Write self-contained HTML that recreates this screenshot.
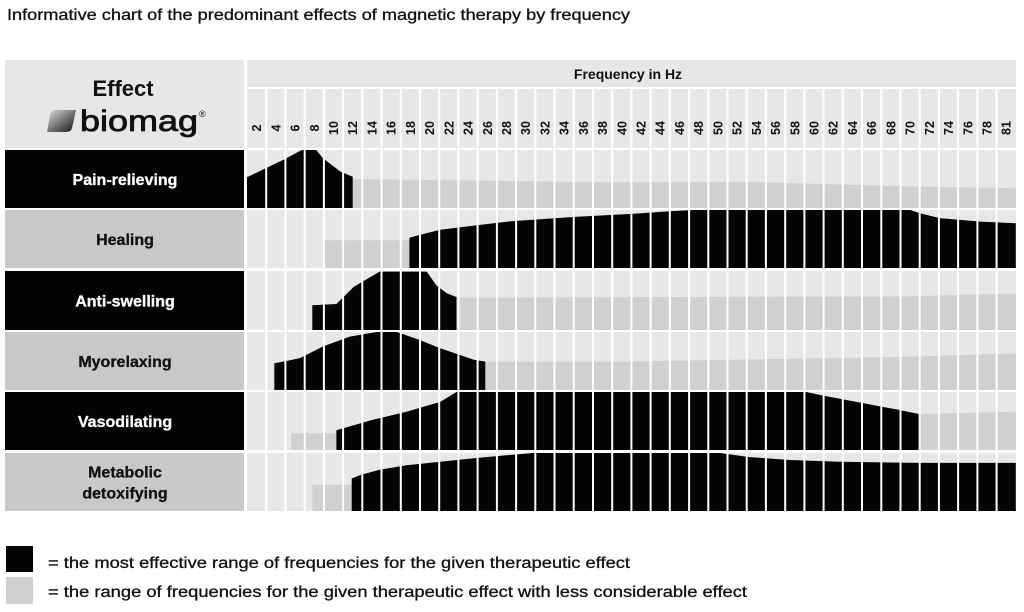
<!DOCTYPE html>
<html><head><meta charset="utf-8">
<style>
body{margin:0;background:#fff;width:1024px;height:612px;overflow:hidden;font-family:"Liberation Sans",sans-serif;}
svg{display:block}
</style></head>
<body>
<svg id="chart" width="1024" height="612" viewBox="0 0 1024 612">
<defs>
<linearGradient id="lg" x1="0" y1="0" x2="1" y2="1"><stop offset="0" stop-color="#ddd"/><stop offset="0.5" stop-color="#777"/><stop offset="1" stop-color="#111"/></linearGradient>
</defs>
<text x="7" y="20" font-size="15.5" fill="#111" textLength="623" lengthAdjust="spacingAndGlyphs" stroke="#111" stroke-width="0.3">Informative chart of the predominant effects of magnetic therapy by frequency</text>
<rect x="5" y="60" width="239" height="88" fill="#e6e7e8"/>
<text x="123" y="96" font-size="22" font-weight="bold" text-anchor="middle" fill="#111">Effect</text>
<path d="M52 110 L76 110 L72 128 Q71 132 66 132 L47 132 L50 115 Q51 110 56 110Z" fill="url(#lg)"/>
<text x="80" y="131" font-size="30" fill="#111" stroke="#111" stroke-width="0.8" textLength="118" lengthAdjust="spacingAndGlyphs">biomag</text>
<text x="199" y="117" font-size="9" fill="#111">®</text>
<rect x="247" y="60" width="769" height="88" fill="#e6e7e8"/>
<rect x="247" y="87" width="769" height="2" fill="#fff"/>
<text x="628" y="79" font-size="14" font-weight="bold" text-anchor="middle" fill="#111">Frequency in Hz</text>
<g id="rows"></g>
<g id="ticks"></g>
<g id="grid"></g>
<rect x="6" y="546" width="27" height="26" fill="#050305"/>
<rect x="6" y="577" width="27" height="27" fill="#d0d0d0"/>
<text x="48" y="568" font-size="15.5" fill="#111" stroke="#111" stroke-width="0.3" textLength="582" lengthAdjust="spacingAndGlyphs">= the most effective range of frequencies for the given therapeutic effect</text>
<text x="48" y="597" font-size="15.5" fill="#111" stroke="#111" stroke-width="0.3" textLength="699" lengthAdjust="spacingAndGlyphs">= the range of frequencies for the given therapeutic effect with less considerable effect</text>
</svg>
<script>
const freqLabels=[2,4,6,8,10,12,14,16,18,20,22,24,26,28,30,32,34,36,38,40,42,44,46,48,50,52,54,56,58,60,62,64,66,68,70,72,74,76,78,81];
const effects=["Pain-relieving","Healing","Anti-swelling","Myorelaxing","Vasodilating","Metabolic detoxifying"];
const painBlackF=[1,3,4.9,6.7,8.2,8.9,10.7,12];
const painBlackV=[0.53,0.69,0.84,1,1,0.86,0.63,0.54];
const painGrayF=[12,40,53,70,81];
const painGrayV=[0.5,0.44,0.45,0.37,0.34];
const healBlackF=[17.9,19,21.1,24.5,28.1,31.5,34.9,41.6,45,47.4,70,71.1,73.1,77.3,81];
const healBlackV=[0.52,0.57,0.66,0.73,0.8,0.84,0.88,0.94,0.98,1,1,0.94,0.86,0.8,0.77];
const healGrayF=[9,17.9];
const healGrayV=[0.48,0.48];
const antiBlackF=[7.8,10.3,12.1,14.8,19.7,20.7,21.8,22.8];
const antiBlackV=[0.42,0.44,0.73,0.99,0.99,0.76,0.62,0.56];
const antiGrayF=[22.8,70,76,81];
const antiGrayV=[0.55,0.57,0.6,0.61];
const myoBlackF=[3.84,5.1,6.5,8.9,11.7,14.5,16.6,19,21.1,24.6,25.8];
const myoBlackV=[0.46,0.5,0.55,0.75,0.92,1,1,0.86,0.72,0.52,0.49];
const myoGrayF=[25.8,40,69,81];
const myoGrayV=[0.49,0.49,0.57,0.63];
const vasoBlackF=[10.3,14.1,17.6,21.1,22.8,59.2,60.9,68.9,70.9];
const vasoBlackV=[0.34,0.52,0.66,0.83,1,1,0.94,0.69,0.62];
const vasoGrayF=[5.6,10.3,70.9,81];
const vasoGrayV=[0.29,0.29,0.62,0.66];
const metaBlackF=[11.9,12.8,14.8,17.6,21.1,24.6,28,30.8,50.2,53.3,57.5,62.7,71,81];
const metaBlackV=[0.56,0.62,0.71,0.79,0.85,0.91,0.96,1,1,0.93,0.88,0.85,0.83,0.83];
const metaGrayF=[7.8,11.9];
const metaGrayV=[0.45,0.45];

const NS="http://www.w3.org/2000/svg";
const X0=247,W=19.22;
const rowTops=[150,210,271,332,392,453];
const rowBots=[208,268,330,390,450,511];
const labelFill=["#050305","#c8c8c8","#050305","#c8c8c8","#050305","#c8c8c8"];
const labelText=["#fff","#111","#fff","#111","#fff","#111"];
const series=[[painGrayF,painGrayV,painBlackF,painBlackV],[healGrayF,healGrayV,healBlackF,healBlackV],[antiGrayF,antiGrayV,antiBlackF,antiBlackV],[myoGrayF,myoGrayV,myoBlackF,myoBlackV],[vasoGrayF,vasoGrayV,vasoBlackF,vasoBlackV],[metaGrayF,metaGrayV,metaBlackF,metaBlackV]];
function xf(f){return X0+(f/2-0.5)*W;}
function yv(r,v){return rowBots[r]-v*(rowBots[r]-rowTops[r]);}
function mk(t,a){const e=document.createElementNS(NS,t);for(const k in a)e.setAttribute(k,a[k]);return e;}
const rows=document.getElementById('rows');
effects.forEach((name,r)=>{
  const h=rowBots[r]-rowTops[r];
  const lab=mk('rect',{x:5,y:rowTops[r],width:239,height:h,fill:labelFill[r]});
  
  
  rows.appendChild(lab);
  const words=name==="Metabolic detoxifying"?["Metabolic","detoxifying"]:[name];
  words.forEach((w,i)=>{
    const t=mk('text',{x:125,y:rowTops[r]+h/2+6+(words.length>1?(i-0.5)*21:0),'font-size':16,'font-weight':'bold','text-anchor':'middle',fill:labelText[r],stroke:labelText[r],'stroke-width':0.3});
    t.textContent=w;
    
    
    rows.appendChild(t);
  });
  const bg=mk('rect',{x:X0,y:rowTops[r],width:769,height:h,fill:'#e6e7e8'});
  
  
  rows.appendChild(bg);
  const [gF,gV,bF,bV]=series[r];
  [[gF,gV,'#d0d0d0','gray-range-area'],[bF,bV,'#050305','black-range-area']].forEach(([F,V,col,nm])=>{
    let pts=[[xf(F[0]),rowBots[r]]];
    F.forEach((f,i)=>pts.push([xf(f),yv(r,V[i])]));
    pts.push([xf(F[F.length-1]),rowBots[r]]);
    const p=mk('polygon',{points:pts.map(p=>p[0].toFixed(1)+','+p[1].toFixed(1)).join(' '),fill:col});
    
    
    rows.appendChild(p);
  });
});
const ticks=document.getElementById('ticks');
freqLabels.forEach((f,i)=>{
  const cx=X0+(i+0.5)*W;
  const t=mk('text',{x:0,y:0,transform:`translate(${(cx+4.5).toFixed(1)},128) rotate(-90)`,'font-size':12.5,'font-weight':'bold','text-anchor':'middle',fill:'#111'});
  t.textContent=f;
  
  
  ticks.appendChild(t);
});
const grid=document.getElementById('grid');
for(let i=1;i<40;i++){
  const l=mk('rect',{x:(X0+i*W-1).toFixed(1),y:89,width:2,height:422,fill:'#fff'});
  
  
  grid.appendChild(l);
}
</script>
</body></html>
